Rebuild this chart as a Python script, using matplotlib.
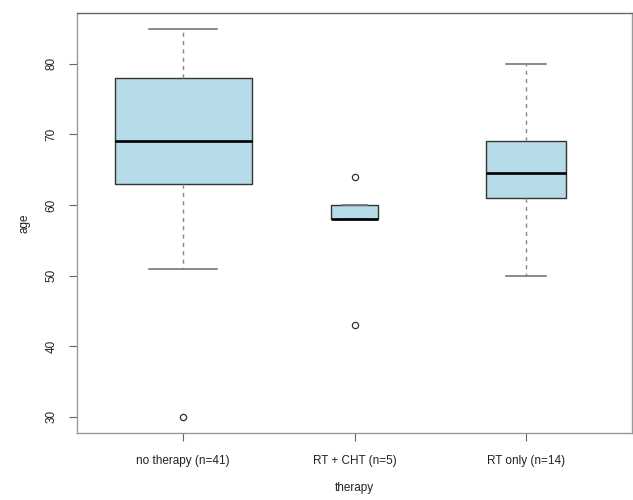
import numpy as np
import matplotlib.pyplot as plt

plt.rcParams['font.family'] = ['Liberation Sans', 'DejaVu Sans']

# values
groups = ['no therapy (n=41)', 'RT + CHT (n=5)', 'RT only (n=14)']
n_obs = [41, 5, 14]
q1 = [63, 58, 61]
median = [69, 58, 64.5]
q3 = [78, 60, 69]
whis_lo = [51, 58, 50]
whis_hi = [85, 60, 80]
outliers = [[30], [64, 43], []]

stats = []
for i in range(len(groups)):
    stats.append({'med': median[i], 'q1': q1[i], 'q3': q3[i],
                  'whislo': whis_lo[i], 'whishi': whis_hi[i],
                  'fliers': outliers[i], 'label': groups[i]})

# varwidth like R: width ~ sqrt(n)
widths = [0.8 * np.sqrt(n) / np.sqrt(max(n_obs)) for n in n_obs]

fig = plt.figure(figsize=(6.33, 5), dpi=100)
ax = fig.add_axes([0.1216, 0.134, 0.877, 0.840])

ax.bxp(stats, positions=[1, 2, 3], widths=widths, patch_artist=True,
       boxprops=dict(facecolor='#b5dce8', edgecolor='#333333', linewidth=1),
       medianprops=dict(color='black', linewidth=1.9),
       whiskerprops=dict(color='#888888', linestyle=(0, (3, 3)), linewidth=1),
       capprops=dict(color='#777777', linewidth=1.2),
       capwidths=[w / 2 for w in widths],
       flierprops=dict(marker='o', markerfacecolor='none', markeredgecolor='#333333',
                       markersize=4.5, markeredgewidth=0.9))

ax.set_xlim(0.38, 3.62)
ax.set_ylim(27.7, 87.2)
ax.set_yticks([30, 40, 50, 60, 70, 80])
ax.set_xticks([1, 2, 3])
ax.set_xticklabels(groups)
for lbl in ax.get_yticklabels():
    lbl.set_rotation(90)
    lbl.set_va('center')

ax.tick_params(axis='both', labelsize=8.5, colors='#222222', length=6, width=0.8,
               pad=8)
ax.tick_params(axis='both', color='#666666')
ax.tick_params(axis='x', pad=10)
for s in ax.spines.values():
    s.set_color('#999999')
    s.set_linewidth(1)
ax.spines['top'].set_color('#666666')

ax.set_xlabel('therapy', fontsize=8.5, labelpad=11, color='#222222')
ax.set_ylabel('age', fontsize=8.5, labelpad=11, color='#222222')

fig.savefig('out.png', dpi=100)
